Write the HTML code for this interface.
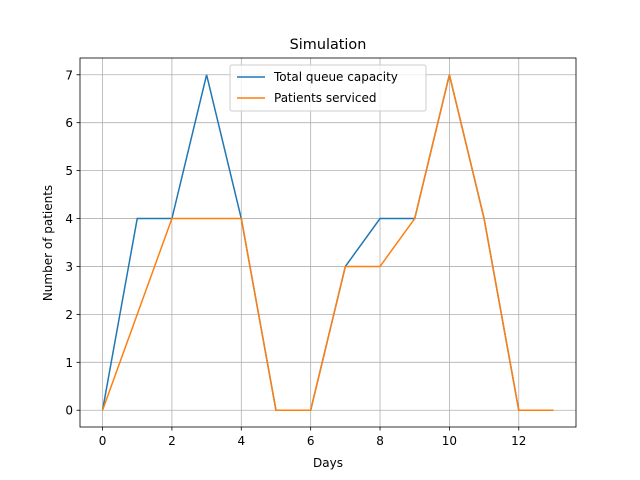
<!DOCTYPE html>
<html><head><meta charset="utf-8"><style>body{margin:0;background:#fff}svg{display:block;font-family:"DejaVu Sans","Liberation Sans",sans-serif}</style></head>
<body>
<svg id="chart" width="640" height="480">
<rect x="0" y="0" width="640" height="480" fill="#fff"/>
<g id="grid"></g>
<g id="series"></g>
<rect x="80" y="58" width="496" height="369" fill="none" stroke="#000" stroke-width="0.8"/>
<g id="ticks" font-size="12"></g>
<text x="328" y="49" font-size="14.4" text-anchor="middle">Simulation</text>
<text x="328" y="467" font-size="12" text-anchor="middle">Days</text>
<text x="52" y="243" font-size="12" text-anchor="middle" transform="rotate(-90 52 243)">Number of patients</text>
<g>
<rect x="230" y="65" width="196" height="46" rx="2" fill="#fff" fill-opacity="0.8" stroke="#ccc"/>
<line x1="237" y1="77" x2="265" y2="77" stroke="#1f77b4" stroke-width="1.5"/>
<text x="274" y="81" font-size="12">Total queue capacity</text>
<line x1="237" y1="98" x2="265" y2="98" stroke="#ff7f0e" stroke-width="1.5"/>
<text x="274" y="102" font-size="12">Patients serviced</text>
</g>
</svg>
<script>
const days=[0,1,2,3,4,5,6,7,8,9,10,11,12,13];
const capacity=[0,4,4,7,4,0,0,3,4,4,7,4,0,0];
const serviced=[0,2,4,4,4,0,0,3,3,4,7,4,0,0];
const xTicks=[0,2,4,6,8,10,12];
const yTicks=[0,1,2,3,4,5,6,7];
const NS="http://www.w3.org/2000/svg";
const X=v=>80+(v+0.65)*496/14.3;
const Y=v=>427-(v+0.35)*369/7.7;
const grid=document.getElementById('grid'),ticks=document.getElementById('ticks'),ser=document.getElementById('series');
function mk(t,a,p){const e=document.createElementNS(NS,t);for(const k in a)e.setAttribute(k,a[k]);p.appendChild(e);return e;}
xTicks.forEach(v=>{
 const g=mk('line',{x1:X(v),x2:X(v),y1:58,y2:427,stroke:'#b0b0b0','stroke-width':0.8},grid);
 
 
 mk('line',{x1:X(v),x2:X(v),y1:427,y2:430.5,stroke:'#000','stroke-width':0.8},ticks);
 const t=mk('text',{x:X(v),y:445,'text-anchor':'middle'},ticks);t.textContent=v;
 
 
});
yTicks.forEach(v=>{
 const g=mk('line',{x1:80,x2:576,y1:Y(v),y2:Y(v),stroke:'#b0b0b0','stroke-width':0.8},grid);
 
 
 mk('line',{x1:76.5,x2:80,y1:Y(v),y2:Y(v),stroke:'#000','stroke-width':0.8},ticks);
 const t=mk('text',{x:73,y:Y(v)+4.5,'text-anchor':'end'},ticks);t.textContent=v;
 
 
});
[[capacity,'#1f77b4','capacity-line'],[serviced,'#ff7f0e','serviced-line']].forEach(([d,c,n])=>{
 const p=mk('polyline',{points:days.map((x,i)=>X(x)+','+Y(d[i])).join(' '),fill:'none',stroke:c,'stroke-width':1.5},ser);
 
 
});
</script>
</body></html>
